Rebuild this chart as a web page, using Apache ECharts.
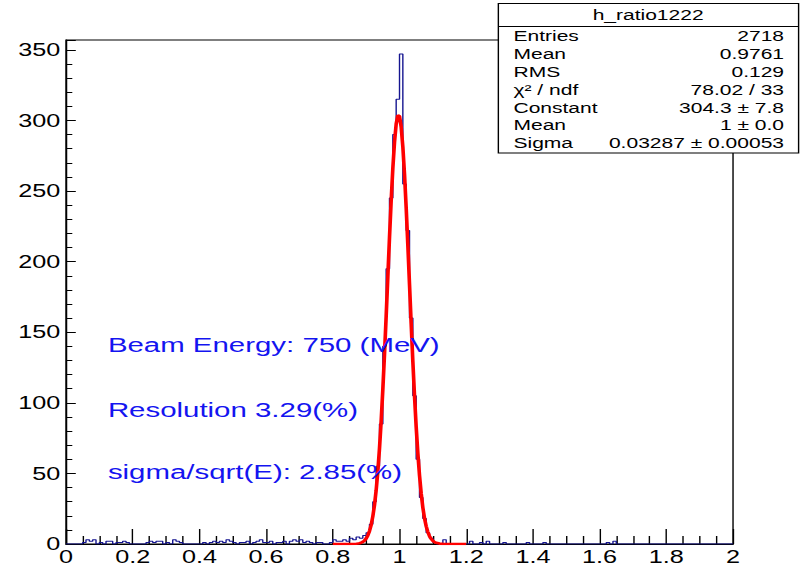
<!DOCTYPE html>
<html><head><meta charset="utf-8">
<script src="https://cdn.jsdelivr.net/npm/echarts@6/dist/echarts.min.js"></script>
<style>
html,body{margin:0;padding:0;overflow:hidden;background:#fff;width:800px;height:569px;}
#wrap{width:800px;height:569px;overflow:hidden;position:relative;}
#chart{width:571px;height:569px;transform:scaleX(1.40105);transform-origin:0 0;position:absolute;left:0;top:0;}
</style></head><body><div id="wrap"><div id="chart"></div></div>
<script>
// ---- data ----
const histName = 'h_ratio1222';
const binLow = 0;
const binWidth = 0.01;
const counts = [
  0,0,0,0,0,1,3,2,3,0,
  1,0,2,2,0,1,1,2,1,0,
  0,0,0,0,1,2,1,2,2,0,
  1,0,3,2,1,0,0,0,0,0,
  0,1,0,1,2,1,2,1,3,2,
  1,0,1,1,2,0,1,2,3,1,
  1,2,0,1,1,2,0,2,3,2,
  3,1,2,1,0,1,1,0,0,1,
  3,2,2,3,2,4,3,5,4,6,
  8,14,30,55,85,140,195,245,290,315,
  347,255,222,160,105,60,33,18,8,4,
  1,0,0,3,0,0,0,0,0,0,
  0,2,0,0,1,0,2,0,0,0,
  0,1,0,0,0,0,0,0,1,0,
  0,0,0,1,0,0,0,0,0,0,
  0,0,0,0,0,0,0,0,0,0,
  0,0,1,0,2,0,0,0,0,0,
  0,0,0,0,0,0,0,0,0,0,
  0,0,0,0,0,0,0,0,0,0,
  0,0,0,0,0,0,0,0,0,0
];
// fitted gaussian curve as drawn (red)
const fitX = [0.80,0.85,0.87,0.875,0.88,0.885,0.89,0.895,0.90,0.905,0.91,0.915,0.92,0.925,0.93,0.935,0.94,0.945,0.95,0.955,0.96,0.965,0.97,0.975,0.98,0.985,0.99,0.995,1.00,1.005,1.01,1.015,1.02,1.025,1.03,1.035,1.04,1.045,1.05,1.055,1.06,1.065,1.07,1.075,1.08,1.085,1.09,1.095,1.10,1.105,1.11,1.12,1.13,1.15,1.20];
const fitY = [0,0.01,0.17,0.31,0.54,0.92,1.52,2.47,3.91,6.06,9.17,13.5,19.6,27.6,38.1,51.4,67.7,87.1,109.5,134.5,161.4,189.5,217.2,243.2,266.2,284.7,297.5,303.7,303.0,295.4,281.4,261.9,238.2,211.7,183.8,156.0,129.3,104.8,82.9,64.2,48.5,35.8,25.8,18.2,12.6,8.5,5.56,3.6,2.24,1.3,0.83,0.28,0.08,0,0];
const xMin = 0, xMax = 2, xInterval = 0.2;
const yMin = 0, yMax = 357, yInterval = 50;
const statsLabels = ['Entries','Mean','RMS','\u03C7\u00B2 / ndf','Constant','Mean','Sigma'];
const statsValues = ['2718','0.9761','0.129','78.02 / 33','304.3 \u00B1 7.8','1 \u00B1 0.0','0.03287 \u00B1 0.00053'];
const notes = ['Beam Energy: 750 (MeV)','Resolution 3.29(%)','sigma/sqrt(E): 2.85(%)'];

// ---- build ----
const histPts = [];
counts.forEach((c, i) => {
  const lo = +(binLow + i * binWidth).toFixed(4);
  const hi = +(binLow + (i + 1) * binWidth).toFixed(4);
  histPts.push([lo, c], [hi, c]);
});
const fitPts = fitX.map((x, i) => [x, fitY[i]]);

const FONT = '"Liberation Sans", Arial, Helvetica, sans-serif';
const graphics = [];
// stats box
graphics.push({type:'rect', z:100, shape:{x:355.7, y:3.5, width:214.3, height:149.5},
  style:{fill:'#fff', stroke:'#000', lineWidth:1}});
graphics.push({type:'line', z:101, shape:{x1:355.7, y1:26.5, x2:570, y2:26.5},
  style:{stroke:'#000', lineWidth:1}});
graphics.push({type:'text', z:102, x:462.6, y:15,
  style:{text:histName, font:'15px ' + FONT, fill:'#000', align:'center', verticalAlign:'middle'}});
statsLabels.forEach((t, i) => {
  const y = 35.6 + i * 17.9;
  graphics.push({type:'text', z:102, x:366.5, y:y,
    style:{text:t, font:'15px ' + FONT, fill:'#000', align:'left', verticalAlign:'middle'}});
  graphics.push({type:'text', z:102, x:559.6, y:y,
    style:{text:statsValues[i], font:'15px ' + FONT, fill:'#000', align:'right', verticalAlign:'middle'}});
});
const noteY = [345, 410, 472];
notes.forEach((t, i) => {
  graphics.push({type:'text', z:90, x:77, y:noteY[i],
    style:{text:t, font:'21px ' + FONT, fill:'#1414f0', align:'left', verticalAlign:'middle'}});
});

const chart = echarts.init(document.getElementById('chart'), null, {renderer:'svg', width:571, height:569});
chart.setOption({
  animation:false,
  backgroundColor:'#fff',
  grid:{left:47.1, right:47.8, top:40, bottom:25, show:true, borderColor:'#000', borderWidth:1,
        backgroundColor:'transparent', outerBoundsMode:'none', containLabel:false},
  xAxis:{type:'value', min:xMin, max:xMax, interval:xInterval,
    axisLine:{show:true, onZero:false, lineStyle:{color:'#000', width:1}},
    axisTick:{show:true, inside:true, length:15, lineStyle:{color:'#000', width:1}},
    minorTick:{show:true, splitNumber:4, length:8, lineStyle:{color:'#000', width:1}},
    splitLine:{show:false}, minorSplitLine:{show:false},
    axisLabel:{color:'#000', fontFamily:'Liberation Sans', fontSize:18, margin:4,
      formatter:v => String(Math.round(v * 10) / 10)}},
  yAxis:{type:'value', min:yMin, max:yMax, interval:yInterval,
    axisLine:{show:true, onZero:false, lineStyle:{color:'#000', width:1}},
    axisTick:{show:true, inside:true, length:7, lineStyle:{color:'#000', width:1}},
    minorTick:{show:true, splitNumber:5, length:4.5, lineStyle:{color:'#000', width:1}},
    splitLine:{show:false}, minorSplitLine:{show:false},
    axisLabel:{color:'#000', fontFamily:'Liberation Sans', fontSize:18, margin:4, showMaxLabel:false,
      formatter:v => (v % 50 === 0 ? String(v) : '')}},
  series:[
    {type:'line', data:histPts, showSymbol:false, symbol:'none', z:3,
     lineStyle:{color:'#151590', width:1}, silent:true},
    {type:'line', data:fitPts, showSymbol:false, symbol:'none', z:4, smooth:false,
     lineStyle:{color:'#ff0000', width:2.6}, silent:true}
  ],
  graphic:graphics
});
</script></body></html>
